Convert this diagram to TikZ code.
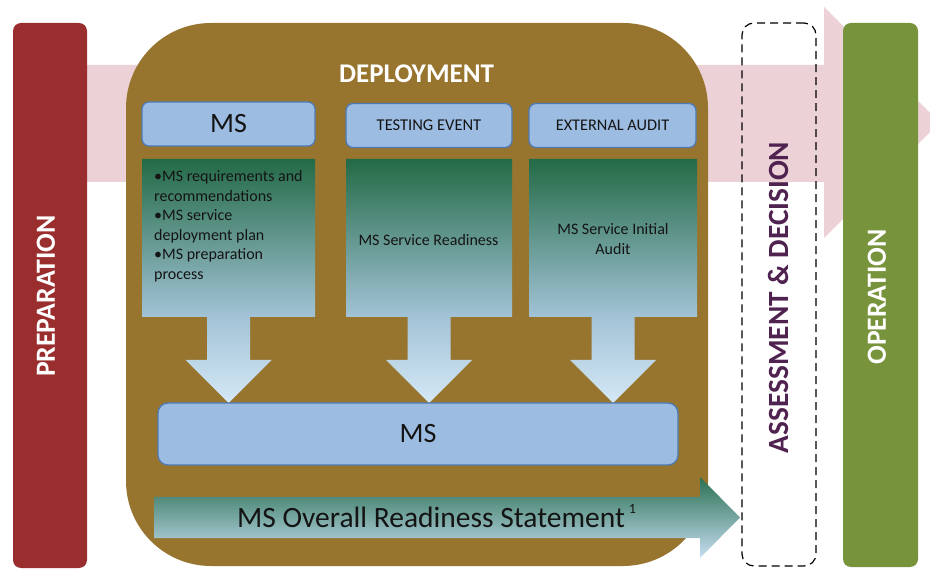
\documentclass[tikz,border=0pt]{standalone}
\usepackage{fontspec}
\setmainfont{Carlito}

\definecolor{prepred}{HTML}{9A2E2E}
\definecolor{opgreen}{HTML}{77933C}
\definecolor{deploybrown}{HTML}{98752F}
\definecolor{flowpink}{HTML}{ECD2D6}
\definecolor{boxblue}{HTML}{9DBCE2}
\definecolor{boxedge}{HTML}{4D7AB3}
\definecolor{decpurple}{HTML}{4F2250}
\definecolor{textdark}{HTML}{141414}
\definecolor{gbTop}{HTML}{236A46}
\definecolor{gbMid}{HTML}{A2C3D6}
\definecolor{gbBot}{HTML}{D5E8F6}
\definecolor{raTop}{HTML}{2A7052}
\definecolor{raBot}{HTML}{C6DEF2}

% green-to-blue fill of the three input columns (box plus block arrow)
\pgfdeclareverticalshading{colbox}{100bp}{color(0bp)=(gbBot); color(25bp)=(gbBot); color(42.7bp)=(gbMid); color(75bp)=(gbTop); color(100bp)=(gbTop)}

\tikzset{
  phasebar/.style={rectangle, rounded corners=8pt, inner sep=0pt},
  phaselabel/.style={rotate=90, inner sep=0pt, font=\fontsize{27.7}{31}\selectfont\bfseries},
  blueblock/.style={rectangle, rounded corners=7pt, fill=boxblue, draw=boxedge,
    line width=1.3pt, inner sep=0pt, text=textdark},
  bodytext/.style={inner sep=0pt, text=textdark, font=\fontsize{16}{19.5}\selectfont},
}

\begin{document}
\begin{tikzpicture}[x=1pt,y=-1pt]
\useasboundingbox (0,0) rectangle (930,569);
\clip (0,0) rectangle (930,569);

% overall flow arrow in the background
\fill[flowpink] (85,65) -- (824,65) -- (824,7) -- (939.5,122.5) -- (824,238)
  -- (824,182) -- (85,182) -- cycle;

% phase bars
\node[phasebar, fill=prepred, minimum width=74pt, minimum height=545pt] (prep) at (50,295.5) {};
\node[phaselabel, text=white] (preplabel) at (46,296) {PREPARATION};

\node[phasebar, fill=opgreen, minimum width=75pt, minimum height=544pt] (oper) at (880.5,295) {};
\node[phaselabel, text=white] (operlabel) at (877,297) {OPERATION};

\node[rectangle, rounded corners=12pt, draw=black, line width=1.2pt,
  dash pattern=on 8pt off 5pt, minimum width=74pt, minimum height=543pt] (assess) at (779,294.5) {};
\node[phaselabel, text=decpurple, font=\fontsize{29.3}{33}\selectfont\bfseries] (assesslabel)
  at (778,297.5) {ASSESSMENT \& DECISION};

% deployment phase
\node[rectangle, rounded corners=85pt, fill=deploybrown, minimum width=582pt,
  minimum height=543pt, inner sep=0pt] (deploy) at (417,294.5) {};
\node[inner sep=0pt, text=white, font=\fontsize{27}{30}\selectfont\bfseries] (deploylabel)
  at (416.5,73.5) {DEPLOYMENT};

% column headers
\node[blueblock, minimum width=173pt, minimum height=44pt, font=\fontsize{28}{32}\selectfont]
  (mstop) at (228.5,124) {MS};
\node[blueblock, minimum width=166pt, minimum height=44pt, font=\fontsize{16.5}{19}\selectfont]
  (testing) at (429,125.5) {TESTING EVENT};
\node[blueblock, minimum width=167pt, minimum height=44pt, font=\fontsize{16.3}{19}\selectfont]
  (audit) at (612.5,125.5) {EXTERNAL AUDIT};

% column bodies with block arrows pointing down
\foreach \l/\r/\c in {142/315/228.5, 346/512/429, 529/697/613}{
  \shade[shading=colbox] (\l,159) -- (\r,159) -- (\r,317) -- ({\c+21.5},317)
    -- ({\c+21.5},360) -- ({\c+43},360) -- (\c,403) -- ({\c-43},360)
    -- ({\c-21.5},360) -- ({\c-21.5},317) -- (\l,317) -- cycle;
}

\node[bodytext, anchor=north west, align=left] (reqs) at (154,170.5)
  {•MS requirements and\\recommendations\\•MS service\\deployment plan\\•MS preparation\\process};
\node[bodytext] (readiness) at (428.5,240.5) {MS Service Readiness};
\node[bodytext, align=center] (initial) at (613,239) {MS Service Initial\\Audit};

% merged result
\node[blueblock, rounded corners=10pt, minimum width=520pt, minimum height=62pt,
  font=\fontsize{28}{32}\selectfont] (msall) at (418,434) {MS};

% readiness statement arrow
\shade[top color=raTop, bottom color=raBot] (154,497) -- (700,497) -- (700,477)
  -- (740,517.5) -- (700,558) -- (700,538) -- (154,538) -- cycle;
\node[anchor=base west, inner sep=0pt, text=textdark, font=\fontsize{29.5}{32}\selectfont]
  (statement) at (237,527)
  {MS Overall Readiness Statement\hspace{4pt}\raisebox{14pt}{\fontsize{14}{14}\selectfont 1}};
\end{tikzpicture}
\end{document}
